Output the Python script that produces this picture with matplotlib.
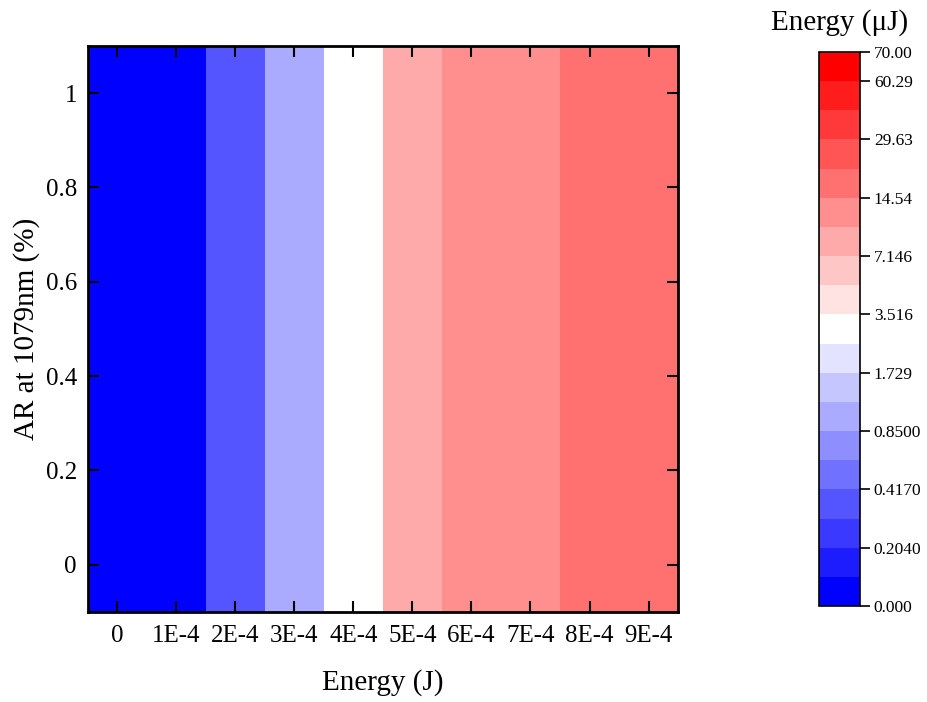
import numpy as np
import matplotlib
matplotlib.use("Agg")
import matplotlib.pyplot as plt
from matplotlib.colors import ListedColormap, BoundaryNorm

plt.rcParams['font.family'] = ['Liberation Serif', 'DejaVu Serif']
plt.rcParams['mathtext.fontset'] = 'stix'

# Grid: pulse energy (J) along x, AR at 1079 nm (%) along y
energy_j = [0, 1e-4, 2e-4, 3e-4, 4e-4, 5e-4, 6e-4, 7e-4, 8e-4, 9e-4]
energy_labels = ["0", "1E-4", "2E-4", "3E-4", "4E-4", "5E-4", "6E-4", "7E-4", "8E-4", "9E-4"]
ar_percent = [0.0, 0.2, 0.4, 0.6, 0.8, 1.0]

# Energy (uJ) for each energy column (constant across AR)
column_energy_uj = [0.0, 0.1, 0.35, 1.0, 3.0, 8.5, 11.5, 13.0, 16.0, 19.0]

# Contour level boundaries (uJ)
levels = [0.0, 0.143, 0.204, 0.2917, 0.417, 0.5954, 0.85, 1.2123, 1.729, 2.4656,
          3.516, 5.0125, 7.146, 10.193, 14.54, 20.757, 29.63, 42.266, 60.29, 70.0]
cbar_ticks = [0.0, 0.204, 0.417, 0.85, 1.729, 3.516, 7.146, 14.54, 29.63, 60.29, 70.0]
cbar_ticklabels = ["0.000", "0.2040", "0.4170", "0.8500", "1.729", "3.516",
                   "7.146", "14.54", "29.63", "60.29", "70.00"]

# Blue -> white -> red, one colour per band
n_side = 9
colors = [(k / n_side, k / n_side, 1.0) for k in range(n_side + 1)]
colors += [(1.0, (n_side - k) / n_side, (n_side - k) / n_side) for k in range(1, n_side + 1)]
cmap = ListedColormap(colors)
norm = BoundaryNorm(levels, cmap.N)

Z = np.tile(np.array(column_energy_uj), (len(ar_percent), 1))

fig = plt.figure(figsize=(9.27, 7.02), dpi=100)
ax = fig.add_axes([0.0949, 0.1282, 0.7314 - 0.0949, 0.9345 - 0.1282])
mesh = ax.pcolormesh(energy_j, ar_percent, Z, cmap=cmap, norm=norm, shading='nearest')

ax.set_xticks(energy_j)
ax.set_xticklabels(energy_labels)
ax.set_yticks([0, 0.2, 0.4, 0.6, 0.8, 1.0])
ax.set_yticklabels(["0", "0.2", "0.4", "0.6", "0.8", "1"])
ax.set_ylim(-0.1, 1.1)
ax.tick_params(direction='in', length=8, width=1.5, labelsize=18,
               top=True, right=True, pad=9)
ax.tick_params(axis='y', pad=8)
for s in ax.spines.values():
    s.set_linewidth(2)
ax.set_xlabel("Energy (J)", fontsize=21, labelpad=16)
ax.set_ylabel("AR at 1079nm (%)", fontsize=21, labelpad=4)

cax = fig.add_axes([0.8835, 0.1368, 0.9277 - 0.8835, 0.9259 - 0.1368])
cb = fig.colorbar(mesh, cax=cax, ticks=cbar_ticks, spacing='uniform')
cb.ax.set_yticklabels(cbar_ticklabels)
cb.ax.tick_params(direction='out', length=7, width=1.2, labelsize=12.5, pad=3)
cb.ax.minorticks_off()
cb.outline.set_linewidth(1.2)
cb.ax.set_title("Energy (\u03bcJ)", fontsize=21, pad=16)

fig.savefig("out.png", dpi=100)
